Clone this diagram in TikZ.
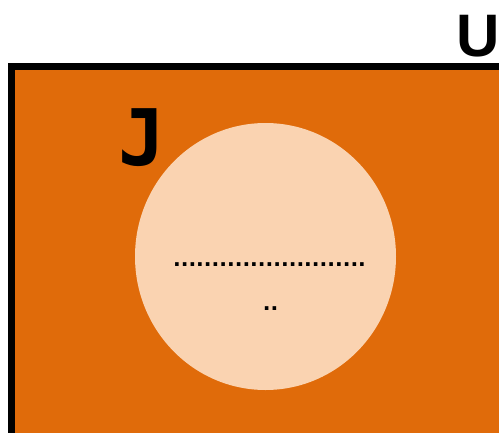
\documentclass[tikz,border=0pt]{standalone}
\usepackage{fontspec}
\newfontfamily\ulabelfont{Liberation Sans}
\newfontfamily\jlabelfont{DejaVu Sans Mono}
\newfontfamily\dotfont{DejaVu Sans}
\definecolor{universeorange}{HTML}{E06B0A}
\definecolor{setpeach}{HTML}{FAD3B1}

\begin{document}
\begin{tikzpicture}[x=1pt, y=-1pt,
                universe/.style={fill=universeorange, draw=black, line width=7pt},
                setj/.style={fill=setpeach},
                dotrow/.style={inner sep=0pt, anchor=base, font=\dotfont\bfseries\fontsize{20.3}{24}\selectfont}
            ]
        \useasboundingbox (0,0) rectangle (499,432);
        \clip (0,0) rectangle (499,432);

        \draw[universe] (11,66) rectangle (540,480);
        \fill[setj] (265.5,256.5) ellipse [x radius=130.5, y radius=133.5];

        \node[anchor=base, inner sep=0pt, font=\ulabelfont\bfseries\fontsize{60}{60}\selectfont] (labelU) at (478,56) {U};
        \node[anchor=base, inner sep=0pt, font=\jlabelfont\bfseries\fontsize{78}{78}\selectfont] (labelJ) at (142,165) {J};

        \node[dotrow] (dotsA) at (269.5,266.5) {.........................};
        \node[dotrow] (dotsB) at (270.5,310.5) {..};
            \end{tikzpicture}
\end{document}
